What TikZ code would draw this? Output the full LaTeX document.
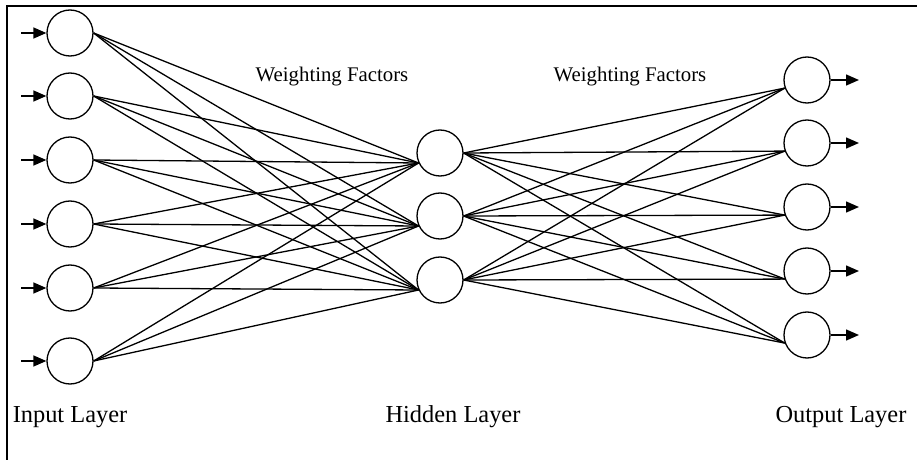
\documentclass[tikz,border=0pt]{standalone}
\usepackage{fontspec}
\setmainfont{Liberation Serif}
\usetikzlibrary{arrows.meta}

\begin{document}
\begin{tikzpicture}[x=0.5pt,y=-0.5pt,
    neuron/.style={circle,draw,line width=0.65pt,minimum size=23pt,inner sep=0pt},
    link/.style={line width=0.65pt},
    feed/.style={line width=0.7pt,-{Triangle[length=6.5pt,width=5.5pt]}},
    layername/.style={font=\fontsize{12.2}{14}\selectfont},
    weightname/.style={font=\fontsize{10.4}{12}\selectfont}]
    \useasboundingbox (0,0) rectangle (917,460);
    \draw[line width=1pt] (7,460) -- (7,6) -- (917,6);
    % input layer
    \foreach \n/\y in {1/33,2/96,3/160,4/224,5/288,6/361}{
        \node[neuron] (I\n) at (70,\y) {};
        \coordinate (Iin\n) at (21,\y);
        \draw[feed] (Iin\n) -- (I\n);
    }
    % hidden layer
    \foreach \n/\y in {1/153,2/216,3/280}
        \node[neuron] (H\n) at (440,\y) {};
    % output layer
    \foreach \n/\y in {1/80,2/143,3/207,4/271,5/335}{
        \node[neuron] (O\n) at (807,\y) {};
        \coordinate (Oout\n) at (859,\y);
        \draw[feed] (O\n) -- (Oout\n);
    }
    % weights
    \foreach \i in {1,...,6}
        \foreach \h in {1,2,3}
            \draw[link] (I\i.east) -- (H\h.205);
    \foreach \h in {1,2,3}
        \foreach \o in {1,...,5}
            \draw[link] (H\h.east) -- (O\o.200);
    \node[weightname] (W1) at (332,77) {Weighting Factors};
    \node[weightname] (W2) at (630,77) {Weighting Factors};
    \node[layername] (LI) at (70,417) {Input Layer};
    \node[layername] (LH) at (453,417) {Hidden Layer};
    \node[layername] (LO) at (841,417) {Output Layer};
\end{tikzpicture}
\end{document}
